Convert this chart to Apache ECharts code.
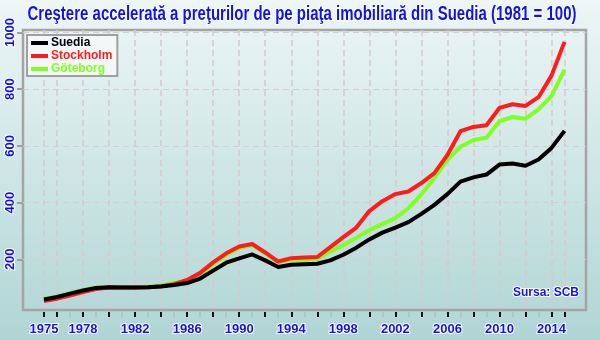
<!DOCTYPE html>
<html><head><meta charset="utf-8">
<script src="https://cdn.jsdelivr.net/npm/echarts@6/dist/echarts.min.js"></script>
<style>html,body{margin:0;padding:0;background:#fff;}#c{width:600px;height:340px;}</style>
</head><body><div id="c"></div>
<script>
const years = [1975,1976,1977,1978,1979,1980,1981,1982,1983,1984,1985,1986,1987,1988,1989,1990,1991,1992,1993,1994,1995,1996,1997,1998,1999,2000,2001,2002,2003,2004,2005,2006,2007,2008,2009,2010,2011,2012,2013,2014,2015];
const suedia = [58,67,79,90,99,101,100,100,101,104,109,116,132,160,188,203,217,196,173,181,182,184,196,216,241,270,294,312,331,360,392,430,474,489,499,534,538,530,552,593,653];
const stockholm = [53,61,72,84,95,100,100,100,101,105,112,127,152,189,221,245,254,224,192,204,206,208,243,278,312,370,405,430,439,469,504,568,652,667,673,734,747,741,772,848,967];
const goteborg = [61,69,80,92,100,102,100,101,103,108,117,124,146,183,215,240,250,221,189,198,198,201,227,250,275,303,324,345,380,429,487,551,597,621,629,687,702,696,729,776,869];
const seriesNames = ['Suedia','Stockholm','Göteborg'];
const xLabelYears = [1975,1978,1982,1986,1990,1994,1998,2002,2006,2010,2014];
const xMajorTicks = [1975,1976,1978,1980,1982,1984,1986,1988,1990,1992,1994,1996,1998,2000,2002,2004,2006,2008,2010,2012,2014,2015];
const xMinorTicks = [1977,1979,1981,1983,1985,1987,1989,1991,1993,1995,1997,1999,2001,2003,2005,2007,2009,2011,2013];
const yTicks = [200,400,600,800,1000];
const titleText = 'Creştere accelerată a preţurilor de pe piaţa imobiliară din Suedia (1981 = 100)';
const sourceText = 'Sursa: SCB';

const blue = '#1212e6';
const sans = '"Liberation Sans", Arial, sans-serif';
const xMin = 1973.385, xMax = 2016.65;

const chart = echarts.init(document.getElementById('c'), null, {renderer:'canvas'});
const colors = ['#000000','#ff1c1c','#80ff20'];
const seriesData = [suedia, stockholm, goteborg];
const zs = [5,4,3];
const plain = v => String(v);

chart.setOption({
  animation: false,
  backgroundColor: {type:'linear', x:0, y:0, x2:0, y2:1, colorStops:[{offset:0,color:'#eef6f6'},{offset:1,color:'#b0d5d5'}]},
  graphic: [{
    type:'text', x:302, y:14, scaleX:0.75, z:10,
    style:{text:titleText, x:0, y:0, textAlign:'center', textVerticalAlign:'middle',
      font:'bold 20px "Liberation Sans", Arial, sans-serif', fill:blue, stroke:'#ffffff', lineWidth:2}
  }],
  title: [{
    text: sourceText, right: 19, top: 287,
    textStyle:{fontFamily:sans, fontWeight:'bold', fontSize:12, color:blue, textBorderColor:'#fff', textBorderWidth:2},
    padding:0
  }],
  legend: {
    orient:'vertical', left:27, top:35, padding:[2,5,1,4], itemGap:1,
    itemWidth:17, itemHeight:4, icon:'rect',
    backgroundColor:'#f3f7f7', borderColor:'#a0a0a0', borderWidth:2,
    textStyle:{fontFamily:sans, fontWeight:'bold', fontSize:12, lineHeight:12, padding:[0,0,0,-2]},
    data: seriesNames.map((n,i)=>({name:n, textStyle:{color:colors[i]}}))
  },
  grid: {left:23, right:14, top:30, bottom:30, show:true, borderColor:'#a4a4a4', borderWidth:2.5, backgroundColor:'transparent', containLabel:false},
  xAxis: [{
    type:'value', min:xMin, max:xMax, position:'bottom', offset:2,
    axisLine:{show:false},
    axisTick:{show:true, customValues:xMajorTicks, length:5, lineStyle:{color:'#111', width:2}},
    axisLabel:{customValues:xLabelYears, formatter:plain, margin:11, color:blue, fontFamily:sans, fontWeight:'bold', fontSize:13, textBorderColor:'#fff', textBorderWidth:2},
    splitLine:{show:true, lineStyle:{color:'#d6c9cb', type:[6,4], width:1.5}}
  },{
    type:'value', min:xMin, max:xMax, position:'bottom', offset:2,
    axisLine:{show:false},
    axisTick:{show:true, customValues:xMinorTicks, length:5, lineStyle:{color:'#b4c4c4', width:2}},
    axisLabel:{show:false},
    splitLine:{show:false}
  }],
  yAxis: {
    type:'value', min:21, max:1009,
    axisLine:{show:false},
    axisTick:{show:true, customValues:yTicks, length:6, lineStyle:{color:'#a0a0a0', width:2}},
    axisLabel:{customValues:yTicks, formatter:plain, rotate:90, margin:6, color:blue, fontFamily:sans, fontWeight:'bold', fontSize:13, textBorderColor:'#fff', textBorderWidth:2},
    splitLine:{show:true, lineStyle:{color:'#d6cfd0', type:[6,4], width:1}}
  },
  series: seriesNames.map((n,i)=>({
    name:n, type:'line', xAxisIndex:0, z:zs[i], symbol:'none', smooth:false,
    data: years.map((y,j)=>[y, seriesData[i][j]]),
    lineStyle:{color:colors[i], width:4, join:'round'},
    itemStyle:{color:colors[i]}
  }))
});
</script></body></html>
